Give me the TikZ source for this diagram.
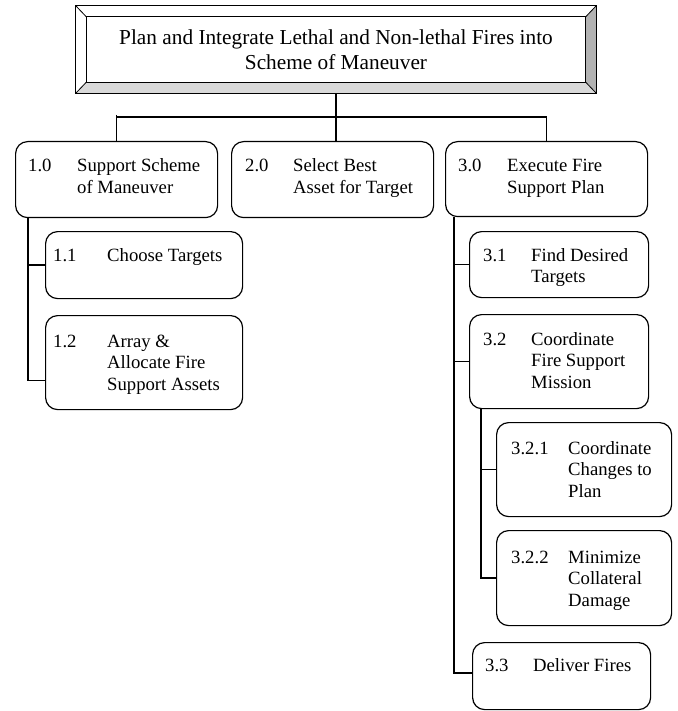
\documentclass[tikz,border=0pt]{standalone}
\usepackage{fontspec}
\setmainfont{Liberation Serif}
\usetikzlibrary{calc,positioning}

\tikzset{
  taskbox/.style={draw, line width=1.2pt, rounded corners=12pt, anchor=north west, inner sep=0pt},
  tasktext/.style={anchor=base west, inner sep=0pt, font=\fontsize{18.7}{21.5}\selectfont},
  link/.style={line width=1.4pt}
}
\newcommand{\entry}[3]{\makebox[#1][l]{#2}\begin{tabular}[t]{@{}l@{}}#3\end{tabular}}

\begin{document}
\begin{tikzpicture}[x=1pt,y=-1pt]
\useasboundingbox (0,0) rectangle (677,711);

% title with bevelled frame
\node [minimum width=520pt, minimum height=87pt, inner sep=0pt] (frame) at (336,49.5) {};
\node [minimum width=499pt, minimum height=65pt, inner sep=0pt, align=center,
       font=\fontsize{21.3}{24.5}\selectfont] (title) at (frame.center)
      {Plan and Integrate Lethal and Non-lethal Fires into\\Scheme of Maneuver};
\fill [gray!60] (frame.north east) -- (title.north east) -- (title.south east) -- (frame.south east) -- cycle;
\fill [gray!30] (frame.south west) -- (title.south west) -- (title.south east) -- (frame.south east) -- cycle;
\draw [line width=1.2pt] (frame.north west) rectangle (frame.south east);
\draw [line width=1.2pt] (title.north west) rectangle (title.south east);
\draw [line width=0.8pt] (frame.north west) -- (title.north west);
\draw [line width=0.8pt] (frame.north east) -- (title.north east);
\draw [line width=0.8pt] (frame.south west) -- (title.south west);
\draw [line width=0.8pt] (frame.south east) -- (title.south east);

% level 1
\node [taskbox, minimum width=202pt, minimum height=76pt] (b10) at (15,141) {};
\node [taskbox, minimum width=202pt, minimum height=76pt] (b20) at (231,141) {};
\node [taskbox, minimum width=202pt, minimum height=75pt] (b30) at (445,141) {};
\node [tasktext] (t10) at ($(b10.north west)+(13,31)$) {\entry{49pt}{1.0}{Support Scheme\\of Maneuver}};
\node [tasktext] (t20) at ($(b20.north west)+(14,31)$) {\entry{48pt}{2.0}{Select Best\\Asset for Target}};
\node [tasktext] (t30) at ($(b30.north west)+(13,31)$) {\entry{49pt}{3.0}{Execute Fire\\Support Plan}};

% level 2
\node [taskbox, minimum width=197pt, minimum height=67pt] (b11) at (45,231) {};
\node [taskbox, minimum width=197pt, minimum height=94pt] (b12) at (45,315) {};
\node [taskbox, minimum width=179pt, minimum height=66pt] (b31) at (469,231) {};
\node [taskbox, minimum width=179pt, minimum height=94pt] (b32) at (469,314) {};
\node [taskbox, minimum width=178pt, minimum height=67pt] (b33) at (472,642) {};
\node [tasktext] (t11) at ($(b11.north west)+(8,30)$) {\entry{54pt}{1.1}{Choose Targets}};
\node [tasktext] (t12) at ($(b12.north west)+(8,32)$) {\entry{54pt}{1.2}{Array \&\\Allocate Fire\\Support Assets}};
\node [tasktext] (t31) at ($(b31.north west)+(14,30)$) {\entry{48pt}{3.1}{Find Desired\\Targets}};
\node [tasktext] (t32) at ($(b32.north west)+(14,31)$) {\entry{48pt}{3.2}{Coordinate\\Fire Support\\Mission}};
\node [tasktext] (t33) at ($(b33.north west)+(13,29)$) {\entry{48pt}{3.3}{Deliver Fires}};

% level 3
\node [taskbox, minimum width=175pt, minimum height=94pt] (b321) at (496,422) {};
\node [taskbox, minimum width=175pt, minimum height=95pt] (b322) at (496,530) {};
\node [tasktext] (t321) at ($(b321.north west)+(15,32)$) {\entry{57pt}{3.2.1}{Coordinate\\Changes to\\Plan}};
\node [tasktext] (t322) at ($(b322.north west)+(15,33)$) {\entry{57pt}{3.2.2}{Minimize\\Collateral\\Damage}};

% connectors
\coordinate (bar) at ($(frame.south)+(0,24)$);
\draw [link] (frame.south) -- (frame.south |- b20.north);
\draw [link] ($(b10.north)+(0,-26)$) -- (b10.north);
\draw [link] (b10.north |- bar) -| (b30.north);

\coordinate (trunk1) at ($(b10.south west)+(13,0)$);
\draw [link] (trunk1) |- (b11.west);
\draw [link] (trunk1) |- ($(b12.west)+(0,18)$);

\coordinate (trunk3) at ($(b30.south west)+(9,0)$);
\draw [link] (trunk3) |- (b31.west);
\draw [link] (trunk3) |- (b32.west);
\draw [link] (trunk3) |- ($(b33.west)+(0,-3)$);

\coordinate (trunk32) at ($(b32.south west)+(12,0)$);
\draw [link] (trunk32) |- (b321.west);
\draw [link] (trunk32) |- (b322.west);

\end{tikzpicture}
\end{document}
